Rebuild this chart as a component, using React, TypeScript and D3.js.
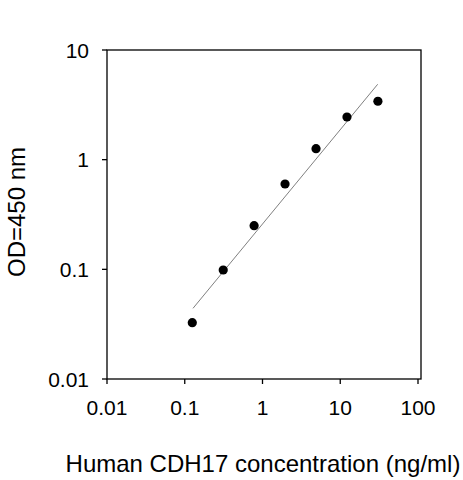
import React from "react";
import * as d3 from "d3";

const concentrations = [0.125, 0.3125, 0.78, 1.95, 4.88, 12.2, 30.5];
const odValues = [0.0326, 0.0986, 0.25, 0.6, 1.26, 2.45, 3.41];
const fitX = [0.1277, 30.3];
const fitY = [0.0441, 4.87];
const xTicks = [0.01, 0.1, 1, 10, 100];
const yTicks = [0.01, 0.1, 1, 10];
const xTickLabels = ["0.01", "0.1", "1", "10", "100"];
const yTickLabels = ["0.01", "0.1", "1", "10"];

const W = 463;
const H = 480;
const left = 107;
const right = 421;
const top = 50;
const bottom = 379;
const decadeX = 77.75;

export default function App() {
  const xMax = Math.pow(10, 2 + (right - left - 4 * decadeX) / decadeX);
  const x = d3.scaleLog().domain([0.01, xMax]).range([left, right]);
  const y = d3.scaleLog().domain([0.01, 10]).range([bottom, top]);
  const font = "'Liberation Sans', Arial, sans-serif";
  const line = d3
    .line<number>()
    .x((_, i) => x(fitX[i]))
    .y((d) => y(d));

  return (
    <svg
      width={W}
      height={H}
      style={{ position: "absolute", left: 0, top: 0, background: "#fff" }}
      fontFamily={font}
    >
      <rect x={0} y={0} width={W} height={H} fill="#fff" />
      {/* frame */}
      <rect x={left} y={top} width={right - left} height={bottom - top} fill="none" stroke="#000" strokeWidth={1.3} />
      {/* y ticks */}
      {yTicks.map((t, i) => (
        <g key={"y" + i}>
          <line x1={left - 5} x2={left} y1={y(t)} y2={y(t)} stroke="#000" strokeWidth={1.3} />
          <text x={89} y={y(t)} dy="0.36em" textAnchor="end" fontSize={21} fill="#000">
            {yTickLabels[i]}
          </text>
        </g>
      ))}
      {/* x ticks */}
      {xTicks.map((t, i) => (
        <g key={"x" + i}>
          <line x1={x(t)} x2={x(t)} y1={bottom} y2={bottom + 5} stroke="#000" strokeWidth={1.3} />
          <text x={x(t)} y={414.5} textAnchor="middle" fontSize={21} fill="#000">
            {xTickLabels[i]}
          </text>
        </g>
      ))}
      {/* fit line */}
      <path d={line(fitY) || ""} fill="none" stroke="#808080" strokeWidth={1} />
      {/* points */}
      {concentrations.map((c, i) => (
        <circle key={"p" + i} cx={x(c)} cy={y(odValues[i])} r={4.6} fill="#000" />
      ))}
      {/* axis titles */}
      <text x={263} y={472} textAnchor="middle" fontSize={24} fill="#000">
        Human CDH17 concentration (ng/ml)
      </text>
      <text
        transform={`translate(25, 212) rotate(-90)`}
        textAnchor="middle"
        fontSize={24}
        fill="#000"
      >
        OD=450 nm
      </text>
    </svg>
  );
}
